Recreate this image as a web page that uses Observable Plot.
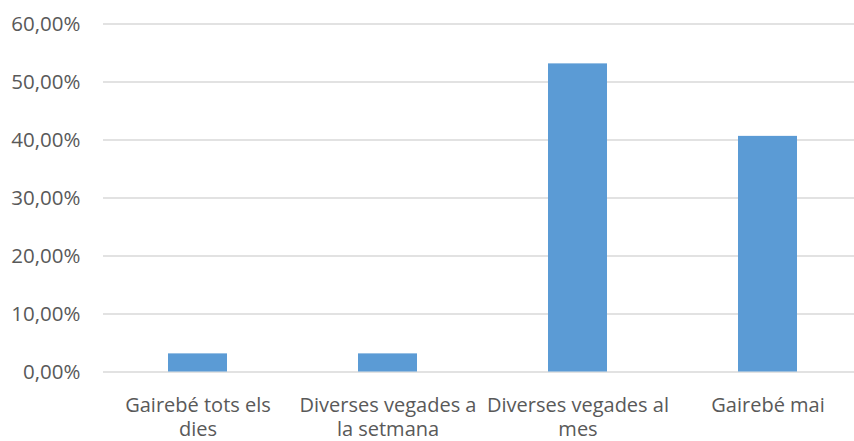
<!DOCTYPE html>
<html>
<head>
<meta charset="utf-8">
<script src="https://cdn.jsdelivr.net/npm/d3@7"></script>
<script src="https://cdn.jsdelivr.net/npm/@observablehq/plot@0.6"></script>
<style>
  html, body { margin: 0; padding: 0; background: #ffffff; }
  #chart svg { display: block; }
</style>
</head>
<body>
<div id="chart"></div>
<script>
const categories = ["Gairebé tots els dies", "Diverses vegades a la setmana", "Diverses vegades al mes", "Gairebé mai"];
const categoryLabels = ["Gairebé tots els\ndies", "Diverses vegades a\nla setmana", "Diverses vegades al\nmes", "Gairebé mai"];
const values = [0.03125, 0.03125, 0.53125, 0.40625];
const yTicks = [0, 0.1, 0.2, 0.3, 0.4, 0.5, 0.6];

const data = categories.map((c, i) => ({category: c, label: categoryLabels[i], value: values[i]}));
const textColor = "#595959";
const font = "'Open Sans', sans-serif";

const chart = Plot.plot({
  width: 854,
  height: 441,
  marginLeft: 103,
  marginRight: 0,
  marginTop: 23.5,
  marginBottom: 69.5,
  style: {fontFamily: font, background: "#ffffff"},
  x: {domain: categories, range: [103, 863], paddingInner: 0.687, paddingOuter: 0.3435, axis: null},
  y: {domain: [0, 0.6]},
  marks: [
    Plot.ruleY(yTicks, {stroke: "#d9d9d9", strokeWidth: 1.4}),
    Plot.barY(data, {x: "category", y: "value", fill: "#5b9bd5"}),
    Plot.axisY({
      ticks: yTicks,
      tickSize: 0,
      tickPadding: 23,
      tickFormat: d => (d * 100).toFixed(2).replace(".", ",") + "%",
      fontSize: 20.5,
      fill: textColor,
      label: null
    }),
    Plot.text(data, {
      x: "category",
      y: () => 0,
      text: "label",
      lineAnchor: "top",
      dy: 22,
      lineHeight: 1.24,
      fontSize: 20,
      fill: textColor
    })
  ]
});
document.getElementById("chart").appendChild(chart);
</script>
</body>
</html>
